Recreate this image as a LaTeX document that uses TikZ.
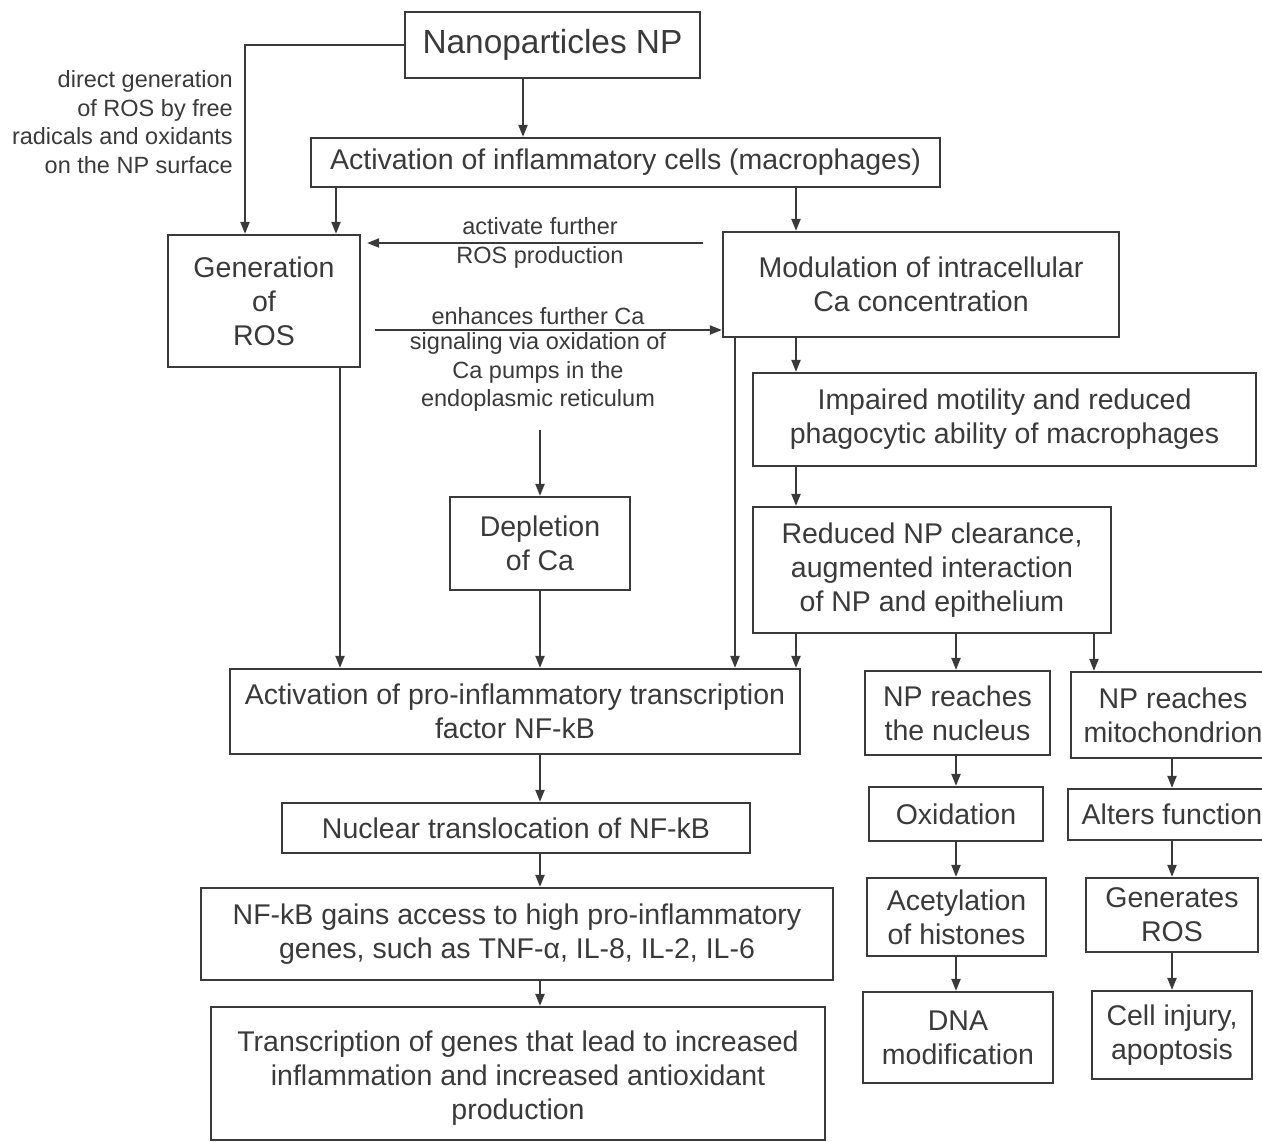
\documentclass[tikz,border=0pt]{standalone}
\usepackage{fontspec}
\setmainfont{Liberation Sans}
\usetikzlibrary{arrows.meta,calc}
\definecolor{ink}{RGB}{58,58,58}
\newcommand\mainfs{\fontsize{28.5}{34}\selectfont}
\newcommand\smallfs{\fontsize{23.5}{28.5}\selectfont}
\newcommand\bigfs{\fontsize{33.4}{40}\selectfont}
% \flowbox[options]{name}{x1}{y1}{x2}{y2}{text}
\newcommand\flowbox[7][]{\node[box,#1,minimum width={(#5)-(#3)},minimum height={(#6)-(#4)}] (#2) at ({((#3)+(#5))/2},{((#4)+(#6))/2}) {#7};}
\begin{document}
\begin{tikzpicture}[x=1pt,y=-1pt,
  box/.style={draw=ink, line width=2.2pt, fill=white, text=ink, inner sep=0pt, align=center, font=\mainfs},
  arr/.style={draw=ink, line width=2pt, -{Triangle[length=12pt,width=9pt]}},
  lbl/.style={text=ink, font=\smallfs, align=center, inner sep=0pt}]
\useasboundingbox (0,0) rectangle (1262,1142);
\clip (0,0) rectangle (1262,1142);
\fill[white] (0,0) rectangle (1262,1142);

% column coordinates
\coordinate (c245) at (245,0);
\coordinate (c336) at (336,0);
\coordinate (c340) at (340,0);
\coordinate (c523) at (523,0);
\coordinate (c540) at (540,0);
\coordinate (c735) at (735,0);
\coordinate (c796) at (796,0);
\coordinate (c956) at (956,0);
\coordinate (c1094) at (1094,0);
\coordinate (c1172) at (1172,0);

% boxes
\flowbox[font=\bigfs]{np}{405}{12}{700}{78}{Nanoparticles NP}
\flowbox{act}{311}{138}{940}{187}{Activation of inflammatory cells (macrophages)}
\flowbox{ros}{168}{235}{360}{367}{Generation\\of\\ROS}
\flowbox{ca}{723}{232}{1119}{337}{Modulation of intracellular\\Ca concentration}
\flowbox{imp}{753}{373}{1256}{466}{Impaired motility and reduced\\phagocytic ability of macrophages}
\flowbox{red}{753}{507}{1111}{633}{Reduced NP clearance,\\augmented interaction\\of NP and epithelium}
\flowbox{dep}{450}{497}{630}{590}{Depletion\\of Ca}
\flowbox{nfkb}{230}{669}{800}{754}{Activation of pro-inflammatory transcription\\factor NF-kB}
\flowbox{nuc}{282}{803}{750}{853}{Nuclear translocation of NF-kB}
\flowbox{gain}{201}{888}{833}{980}{NF-kB gains access to high pro-inflammatory\\genes, such as TNF-α, IL-8, IL-2, IL-6}
\flowbox{trans}{211}{1007}{825}{1140}{\rule{0pt}{30pt}Transcription of genes that lead to increased\\inflammation and increased antioxidant\\production}

\flowbox{nucl}{865}{671}{1050}{755}{NP reaches\\the nucleus}
\flowbox{oxi}{869}{787}{1043}{841}{Oxidation}
\flowbox{acet}{867}{878}{1046}{956}{Acetylation\\of histones}
\flowbox{dna}{863}{992}{1053}{1083}{DNA\\modification}

\flowbox{mito}{1071}{672}{1275}{758}{NP reaches\\mitochondrion}
\flowbox{alt}{1068}{789}{1276}{840}{Alters function}
\flowbox{gen}{1086}{878}{1258}{952}{Generates\\ROS}
\flowbox{cell}{1092}{991}{1252}{1079}{Cell injury,\\apoptosis}

% labels
\node[lbl, align=right, anchor=east] (ann) at (233,122) {direct generation\\of ROS by free\\radicals and oxidants\\on the NP surface};
\node[lbl] (actlbl) at (540,243) {activate further\\ROS production};
\node[lbl] (enhA) at (538,316) {enhances further Ca};
\node[lbl] (enhB) at (538,372) {signaling via oxidation of\\Ca pumps in the\\endoplasmic reticulum};

% free ends
\coordinate (a1) at (703,243);
\coordinate (e1) at (375,330);
\coordinate (e2) at (540,430);

% connectors
\draw[arr] (np.south -| c523) -- (act.north -| c523);
\draw[arr] (np.west) -| (ros.north -| c245);
\draw[arr] (act.south -| c336) -- (ros.north -| c336);
\draw[arr] (act.south -| c796) -- (ca.north -| c796);
\draw[arr, shorten >=6pt] (a1) -- (a1 -| ros.east);
\draw[arr] (e1) -- (e1 -| ca.west);
\draw[arr] (e2) -- (dep.north);
\draw[arr] (dep.south) -- (nfkb.north -| dep.south);
\draw[arr] (ros.south -| c340) -- (nfkb.north -| c340);
\draw[arr] (ca.south -| c735) -- (nfkb.north -| c735);
\draw[arr] (ca.south -| c796) -- (imp.north -| c796);
\draw[arr] (imp.south -| c796) -- (red.north -| c796);
\draw[arr] (red.south -| c796) -- (nfkb.north -| c796);
\draw[arr] (red.south -| c956) -- (nucl.north -| c956);
\draw[arr] (red.south -| c1094) -- (mito.north -| c1094);

\draw[arr] (nfkb.south -| c540) -- (nuc.north -| c540);
\draw[arr] (nuc.south -| c540) -- (gain.north -| c540);
\draw[arr] (gain.south -| c540) -- (trans.north -| c540);

\draw[arr] (nucl.south -| c956) -- (oxi.north -| c956);
\draw[arr] (oxi.south -| c956) -- (acet.north -| c956);
\draw[arr] (acet.south -| c956) -- (dna.north -| c956);

\draw[arr] (mito.south -| c1172) -- (alt.north -| c1172);
\draw[arr] (alt.south -| c1172) -- (gen.north -| c1172);
\draw[arr] (gen.south -| c1172) -- (cell.north -| c1172);
\end{tikzpicture}
\end{document}
